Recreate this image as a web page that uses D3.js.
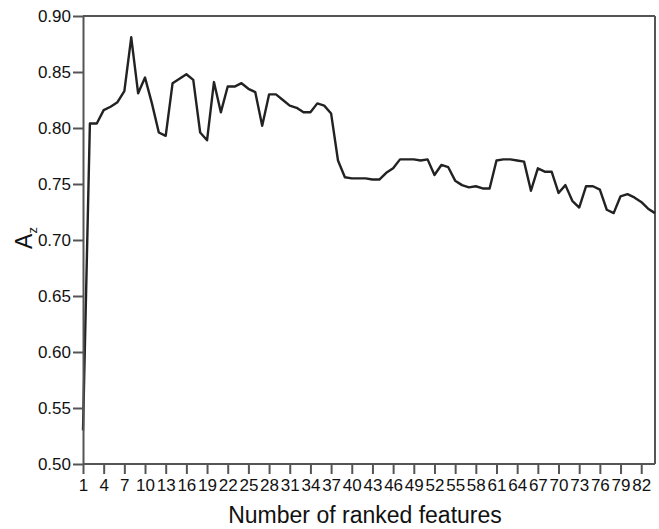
<!DOCTYPE html>
<html>
<head>
<meta charset="utf-8">
<script src="https://cdn.jsdelivr.net/npm/d3@7"></script>
<style>
  html, body { margin: 0; padding: 0; background: #fff; }
  svg { display: block; }
  text { font-family: "Liberation Sans", Arial, sans-serif; fill: #111; }
</style>
</head>
<body>
<svg id="chart" width="659" height="529"></svg>
<script>
// Number of ranked features (x categories)
const features = d3.range(1, 85);
// Az values
const azValues = [
  0.530, 0.804, 0.804, 0.816, 0.819, 0.823, 0.833, 0.881, 0.831, 0.845,
  0.822, 0.796, 0.793, 0.840, 0.844, 0.848, 0.843, 0.796, 0.789, 0.841,
  0.814, 0.837, 0.837, 0.840, 0.835, 0.832, 0.802, 0.830, 0.830, 0.825,
  0.820, 0.818, 0.814, 0.814, 0.822, 0.820, 0.813, 0.771, 0.756, 0.755,
  0.755, 0.755, 0.754, 0.754, 0.760, 0.764, 0.772, 0.772, 0.772, 0.771,
  0.772, 0.758, 0.767, 0.765, 0.753, 0.749, 0.747, 0.748, 0.746, 0.746,
  0.771, 0.772, 0.772, 0.771, 0.770, 0.744, 0.764, 0.761, 0.761, 0.742,
  0.749, 0.735, 0.729, 0.748, 0.748, 0.745, 0.727, 0.724, 0.739, 0.741,
  0.738, 0.734, 0.728, 0.724
];
const xTickValues = d3.range(1, 83, 3);
const yTickValues = [0.50, 0.55, 0.60, 0.65, 0.70, 0.75, 0.80, 0.85, 0.90];
const xTitle = "Number of ranked features";
const yTitleMain = "A";
const yTitleSub = "z";

const data = features.map((f, i) => ({ f, v: azValues[i] }));

const svg = d3.select("#chart");
const W = 659, H = 529;
const margin = { left: 83, right: 4, top: 16, bottom: 65 };
const x0 = margin.left, x1 = W - margin.right;
const y0 = H - margin.bottom, y1 = margin.top;

const x = d3.scalePoint().domain(features).range([x0, x1]);
const y = d3.scaleLinear().domain([0.50, 0.90]).range([y0, y1]);

const axisColor = "#555";

// frame top and right
svg.append("line").attr("x1", x0).attr("x2", x1).attr("y1", y1).attr("y2", y1)
  .attr("stroke", axisColor).attr("stroke-width", 2);
svg.append("line").attr("x1", x1).attr("x2", x1).attr("y1", y1).attr("y2", y0)
  .attr("stroke", axisColor).attr("stroke-width", 2);

// line
const line = d3.line().x(d => x(d.f)).y(d => y(d.v));
svg.append("path").datum(data)
  .attr("d", line)
  .attr("fill", "none")
  .attr("stroke", "#222")
  .attr("stroke-width", 2.4)
  .attr("stroke-linejoin", "round");

// x axis
const gx = svg.append("g").attr("transform", `translate(0,${y0})`)
  .call(d3.axisBottom(x).tickValues(xTickValues).tickSize(10).tickPadding(5).tickSizeOuter(0));
gx.select(".domain").attr("stroke", axisColor).attr("stroke-width", 2)
  .attr("d", `M${x0},0H${x1}`);
gx.selectAll(".tick line").attr("stroke", axisColor).attr("stroke-width", 2);
gx.selectAll(".tick text").style("font-size", "17px").attr("fill", "#111");

// y axis
const gy = svg.append("g").attr("transform", `translate(${x0},0)`)
  .call(d3.axisLeft(y).tickValues(yTickValues).tickFormat(d3.format(".2f")).tickSize(10).tickPadding(2).tickSizeOuter(0));
gy.select(".domain").attr("stroke", axisColor).attr("stroke-width", 2);
gy.selectAll(".tick line").attr("stroke", axisColor).attr("stroke-width", 2);
gy.selectAll(".tick text").style("font-size", "17px").attr("fill", "#111");

// x title
svg.append("text")
  .attr("x", (x0 + x1) / 2 - 4)
  .attr("y", 523)
  .attr("text-anchor", "middle")
  .style("font-size", "23px")
  .text(xTitle);

// y title
const yt = svg.append("text")
  .attr("transform", `translate(32,${(y0 + y1) / 2 - 2}) rotate(-90)`)
  .attr("text-anchor", "middle")
  .style("font-size", "23px");
yt.append("tspan").text(yTitleMain);
yt.append("tspan").attr("dy", 5).style("font-size", "13px").text(yTitleSub);
</script>
</body>
</html>
